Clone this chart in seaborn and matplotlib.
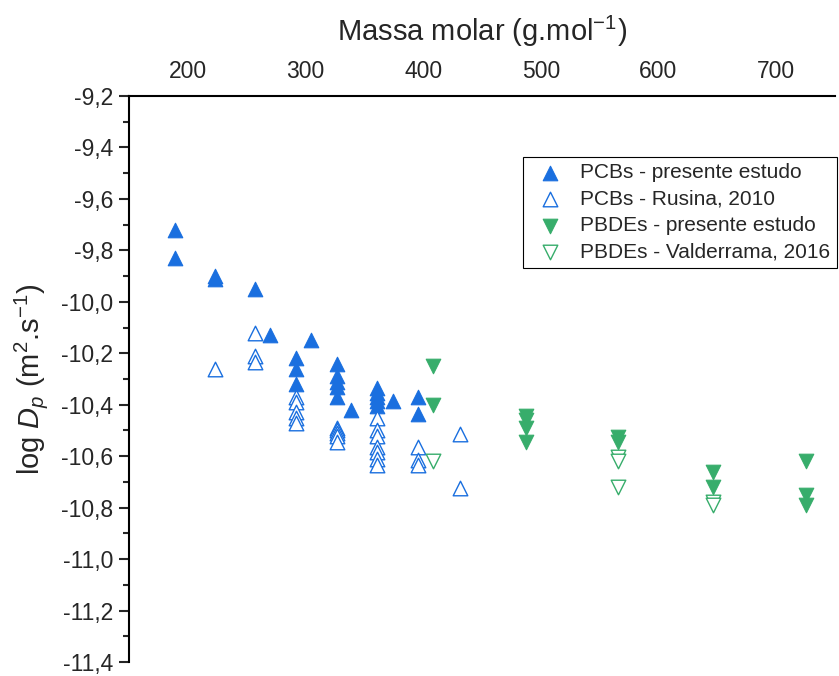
import numpy as np
import pandas as pd
import seaborn as sns
import matplotlib.pyplot as plt
from matplotlib.ticker import MultipleLocator, FuncFormatter

# PCBs - presente estudo (massa molar, log Dp)
pcb_est_x = [189, 189, 223, 223, 257.5, 270, 292, 292, 292, 304.5,
             327, 327, 327, 327, 327, 339, 361, 361, 361, 361, 361, 374, 396, 396]
pcb_est_y = [-9.72, -9.83, -9.90, -9.91, -9.95, -10.13, -10.22, -10.26, -10.32, -10.15,
             -10.24, -10.29, -10.31, -10.33, -10.37, -10.42, -10.335, -10.355, -10.37, -10.385, -10.405,
             -10.385, -10.37, -10.435]

# PCBs - Rusina, 2010
pcb_rus_x = [223, 257.5, 257.5, 257.5, 292, 292, 292, 292, 292,
             327, 327, 327, 327, 327, 361, 361, 361, 361, 361, 361, 361,
             396, 396, 396, 431, 431]
pcb_rus_y = [-10.26, -10.12, -10.21, -10.235, -10.37, -10.39, -10.43, -10.45, -10.47,
             -10.49, -10.50, -10.51, -10.52, -10.545, -10.45, -10.50, -10.52, -10.565, -10.585, -10.61, -10.635,
             -10.565, -10.615, -10.635, -10.515, -10.725]

# PBDEs - presente estudo
pbde_est_x = [408, 408, 487, 487, 487, 487, 566, 566, 646, 646, 725, 725, 725]
pbde_est_y = [-10.25, -10.40, -10.445, -10.46, -10.49, -10.545, -10.525, -10.545,
              -10.66, -10.72, -10.62, -10.75, -10.79]

# PBDEs - Valderrama, 2016
pbde_val_x = [408, 566, 566, 566, 646, 646]
pbde_val_y = [-10.62, -10.605, -10.62, -10.72, -10.78, -10.79]

blue = '#1A6FDF'
green = '#37AD6B'

sns.set_style('ticks')
plt.rcParams['font.family'] = ['Liberation Sans', 'DejaVu Sans']
plt.rcParams['mathtext.fontset'] = 'custom'
plt.rcParams['mathtext.rm'] = 'Liberation Sans'
plt.rcParams['mathtext.it'] = 'Liberation Sans:italic'

fig = plt.figure(figsize=(8.39, 6.76), dpi=100)
ax = fig.add_axes([129 / 839, 14 / 676, 706 / 839, 566 / 676])

ms = 110
sns.scatterplot(x=pcb_est_x, y=pcb_est_y, marker='^', s=ms, color=blue, edgecolor=blue,
                linewidth=0.8, label='PCBs - presente estudo', ax=ax)
sns.scatterplot(x=pcb_rus_x, y=pcb_rus_y, marker='^', s=ms, color='white', edgecolor=blue,
                linewidth=1.0, label='PCBs - Rusina, 2010', ax=ax)
sns.scatterplot(x=pbde_est_x, y=pbde_est_y, marker='v', s=ms, color=green, edgecolor=green,
                linewidth=0.8, label='PBDEs - presente estudo', ax=ax)
sns.scatterplot(x=pbde_val_x, y=pbde_val_y, marker='v', s=ms, color='white', edgecolor=green,
                linewidth=1.0, label='PBDEs - Valderrama, 2016', ax=ax)

ax.set_xlim(150, 750)
ax.set_ylim(-11.4, -9.2)

# eixo x no topo
ax.xaxis.tick_top()
ax.xaxis.set_label_position('top')
ax.xaxis.set_minor_locator(MultipleLocator(50))
ax.set_xticks([200, 300, 400, 500, 600, 700])
ax.yaxis.set_major_locator(MultipleLocator(0.2))
ax.yaxis.set_minor_locator(MultipleLocator(0.1))
ax.yaxis.set_major_formatter(FuncFormatter(lambda v, p: f'{v:.1f}'.replace('.', ',')))

ax.tick_params(axis='x', which='both', top=True, bottom=False, labeltop=True,
               labelbottom=False, direction='in', labelsize=16.5, pad=9)
ax.tick_params(axis='x', which='major', length=7.5, width=1.5)
ax.tick_params(axis='x', which='minor', length=4, width=1.5)
ax.tick_params(axis='y', which='both', left=True, direction='out', labelsize=16.5, pad=4)
ax.tick_params(axis='y', which='major', length=7.5, width=1.5)
ax.tick_params(axis='y', which='minor', length=4, width=1.5)

sns.despine(ax=ax, top=False, right=True, bottom=True, left=False)
for side in ['top', 'left']:
    ax.spines[side].set_linewidth(1.5)
    ax.spines[side].set_color('black')

ax.set_xlabel('Massa molar (g.mol$^{-1}$)', fontsize=21, labelpad=14)
ax.set_ylabel('log $D_p$ (m$^2$.s$^{-1}$)', fontsize=21, labelpad=8)

leg = ax.legend(loc='upper left', bbox_to_anchor=(523 / 839, 1 - 157 / 676),
                bbox_transform=fig.transFigure, fontsize=15, frameon=True,
                fancybox=False, edgecolor='black', framealpha=1,
                borderpad=0.3, labelspacing=0.36, handletextpad=0.45, borderaxespad=0)
leg.get_frame().set_linewidth(0.8)

fig.savefig('out.png', dpi=100)
